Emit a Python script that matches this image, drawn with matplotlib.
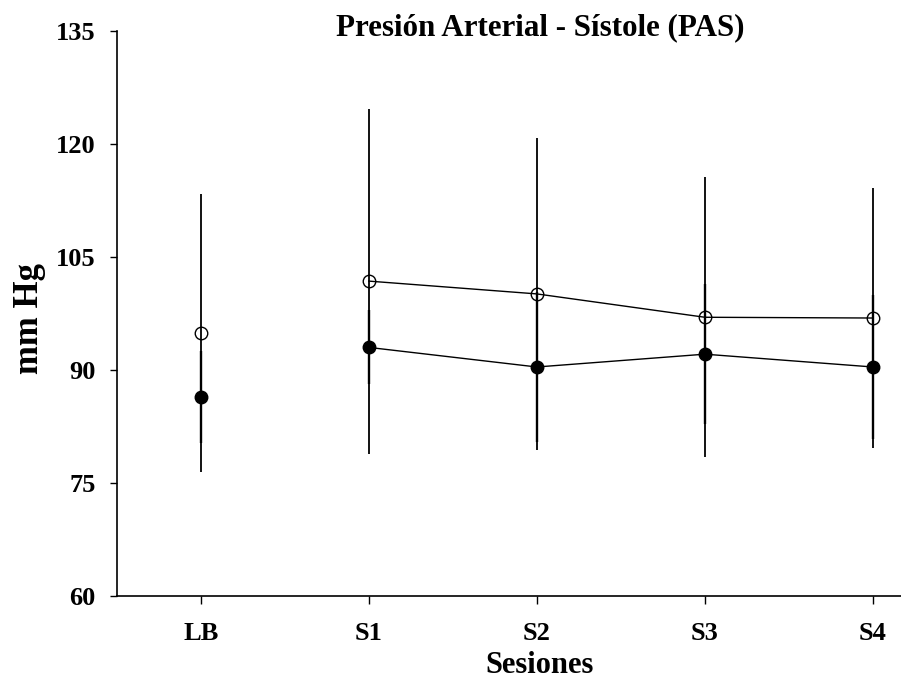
import matplotlib
matplotlib.use('Agg')
import matplotlib.pyplot as plt
import numpy as np

# fuente tipo Times en negrita
plt.rcParams['font.family'] = ['Liberation Serif', 'DejaVu Serif']
plt.rcParams['font.weight'] = 'bold'

# --- datos ---
sesiones = ['LB', 'S1', 'S2', 'S3', 'S4']
pas_abierto = [94.9, 101.8, 100.1, 97.0, 96.9]
err_abierto = [18.4, 22.9, 20.7, 18.6, 17.3]
pas_lleno = [86.4, 93.0, 90.4, 92.1, 90.4]
err_lleno = [6.1, 4.9, 10.0, 9.3, 9.6]

x = np.arange(len(sesiones))

fig = plt.figure(figsize=(9.01, 6.81), dpi=100)
ax = fig.add_axes([0.1295, 0.1248, 0.9326, 0.8297])

# barras de error
ax.errorbar(x, pas_abierto, yerr=err_abierto, fmt='none', ecolor='black', elinewidth=1.3, capsize=0, zorder=2)
ax.errorbar(x, pas_lleno, yerr=err_lleno, fmt='none', ecolor='black', elinewidth=1.7, capsize=0, zorder=2)

# líneas (LB no se une con S1)
ax.plot(x[1:], pas_abierto[1:], color='black', linewidth=1.0, zorder=3)
ax.plot(x[1:], pas_lleno[1:], color='black', linewidth=1.0, zorder=3)

# marcadores
ax.plot(x, pas_abierto, linestyle='none', marker='o', markersize=9, markerfacecolor='none',
        markeredgecolor='black', markeredgewidth=1.0, zorder=4)
ax.plot(x, pas_lleno, linestyle='none', marker='o', markersize=9, markerfacecolor='black',
        markeredgecolor='black', zorder=4)

ax.set_xlim(-0.5, 4.5)
ax.set_ylim(60, 135)
ax.set_yticks([60, 75, 90, 105, 120, 135])
ax.set_xticks(x)
ax.set_xticklabels(sesiones)

for s in ['top', 'right']:
    ax.spines[s].set_visible(False)
for s in ['left', 'bottom']:
    ax.spines[s].set_linewidth(1.2)

ax.tick_params(axis='y', direction='out', length=5, width=1.0, pad=10, labelsize=19)
ax.tick_params(axis='x', direction='out', length=5.5, width=1.0, pad=13, labelsize=19)
for lab in ax.get_xticklabels() + ax.get_yticklabels():
    lab.set_fontweight('bold')

fig.text(540 / 901, 1 - 35 / 681, 'Presión Arterial - Sístole (PAS)', ha='center', va='baseline',
         fontsize=22.3, fontweight='bold')
fig.text(540 / 901, 1 - 673 / 681, 'Sesiones', ha='center', va='baseline', fontsize=22, fontweight='bold')
fig.text(30 / 901, 1 - 318 / 681, 'mm Hg', ha='center', va='center', rotation=90,
         fontsize=25, fontweight='bold')

fig.savefig('out.png', dpi=100)
